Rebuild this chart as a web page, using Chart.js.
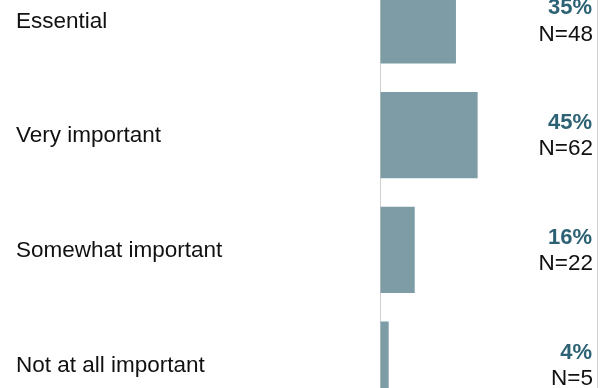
<!DOCTYPE html>
<html>
<head>
<meta charset="utf-8">
<script src="https://cdn.jsdelivr.net/npm/chart.js@4"></script>
<style>
  html, body { margin: 0; padding: 0; background: #fff; overflow: hidden; }
  #wrap { position: relative; width: 608px; height: 388px; overflow: hidden; }
  #chart { position: absolute; left: 0; top: -37px; }
</style>
</head>
<body>
<div id="wrap"><canvas id="chart" width="608" height="459"></canvas></div>
<script>
const categories = ['Essential', 'Very important', 'Somewhat important', 'Not at all important'];
const percents = [35, 45, 16, 4];
const counts = [48, 62, 22, 5];

const FONT = '"Liberation Sans", Arial, sans-serif';

// draws category names on the left and % / N on the right
const sideLabels = {
  id: 'sideLabels',
  afterDatasetsDraw(chart) {
    const ctx = chart.ctx;
    const y = chart.scales.y;
    const right = chart.chartArea.right - 4;
    ctx.save();
    ctx.textBaseline = 'middle';
    categories.forEach((cat, i) => {
      const cy = y.getPixelForValue(i);
      ctx.font = '22.5px ' + FONT;
      ctx.fillStyle = '#111';
      ctx.textAlign = 'left';
      ctx.fillText(cat, 16, cy + 1);

      ctx.textAlign = 'right';
      ctx.font = 'bold 22px ' + FONT;
      ctx.fillStyle = '#2d6275';
      ctx.fillText(percents[i] + '%', right - 1, cy - 12);
      ctx.font = '22.5px ' + FONT;
      ctx.fillStyle = '#111';
      ctx.fillText('N=' + counts[i], right, cy + 14);
    });
    ctx.restore();
  }
};

new Chart(document.getElementById('chart'), {
  type: 'bar',
  data: {
    labels: categories,
    datasets: [{
      data: percents,
      backgroundColor: '#7d9ca6',
      barPercentage: 1,
      categoryPercentage: 0.75
    }]
  },
  options: {
    indexAxis: 'y',
    responsive: false,
    animation: false,
    layout: { padding: { left: 380, right: 11, top: 0, bottom: 0 } },
    plugins: { legend: { display: false }, tooltip: { enabled: false } },
    scales: {
      x: {
        min: 0, max: 100,
        ticks: { display: false, stepSize: 100 },
        grid: { color: '#d0d0d0', drawTicks: false, lineWidth: 1 },
        border: { display: false }
      },
      y: {
        display: false
      }
    }
  },
  plugins: [sideLabels]
});
</script>
</body>
</html>
